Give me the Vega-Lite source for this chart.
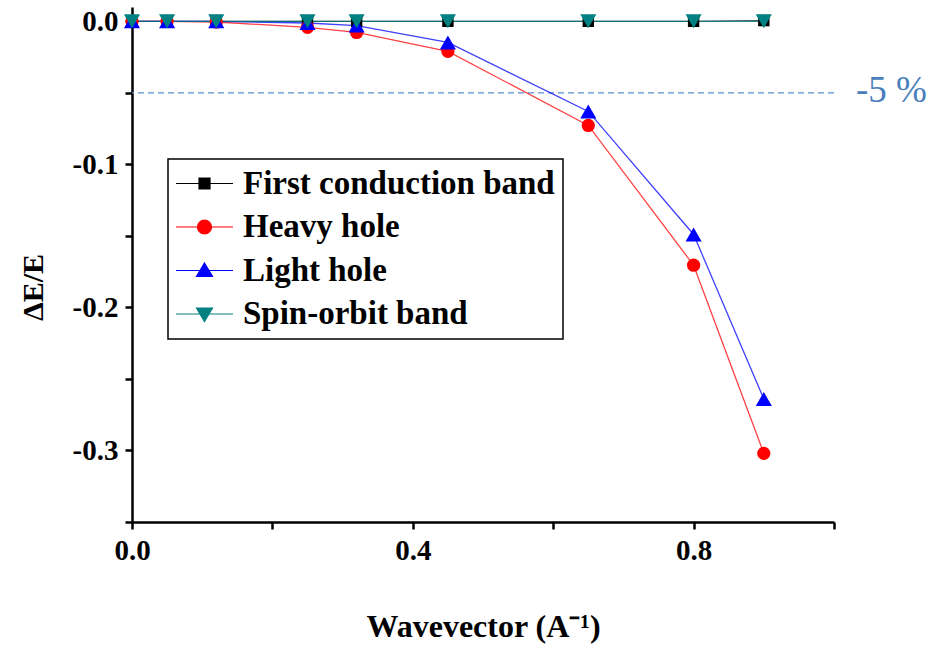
{
  "$schema": "https://vega.github.io/schema/vega-lite/v6.json",
  "autosize": "none",
  "width": 702,
  "height": 515,
  "padding": {"left": 132, "top": 7, "right": 102, "bottom": 128},
  "background": "white",
  "config": {
    "view": {"stroke": null},
    "font": "Liberation Serif",
    "axis": {
      "grid": false,
      "domainColor": "black",
      "domainWidth": 2.5,
      "tickColor": "black",
      "tickWidth": 2.5,
      "tickSize": 7,
      "ticks": true,
      "labelFont": "Liberation Serif",
      "labelFontWeight": "bold",
      "labelFontSize": 29,
      "labelColor": "black",
      "labelOverlap": false,
      "labelBound": false,
      "labelFlush": false,
      "titleFont": "Liberation Serif",
      "titleFontWeight": "bold",
      "titleColor": "black"
    }
  },
  "datasets": {
    "bands": [
      {"k": 0, "dE": 0, "series": "First conduction band"},
      {"k": 0.05, "dE": 0, "series": "First conduction band"},
      {"k": 0.12, "dE": 0, "series": "First conduction band"},
      {"k": 0.25, "dE": 0, "series": "First conduction band"},
      {"k": 0.32, "dE": 0, "series": "First conduction band"},
      {"k": 0.45, "dE": 0, "series": "First conduction band"},
      {"k": 0.65, "dE": 0, "series": "First conduction band"},
      {"k": 0.8, "dE": 0, "series": "First conduction band"},
      {"k": 0.9, "dE": 0.0005, "series": "First conduction band"},
      {"k": 0, "dE": 0, "series": "Heavy hole"},
      {"k": 0.05, "dE": 0, "series": "Heavy hole"},
      {"k": 0.12, "dE": -0.0005, "series": "Heavy hole"},
      {"k": 0.25, "dE": -0.0042, "series": "Heavy hole"},
      {"k": 0.32, "dE": -0.0078, "series": "Heavy hole"},
      {"k": 0.45, "dE": -0.021, "series": "Heavy hole"},
      {"k": 0.65, "dE": -0.0728, "series": "Heavy hole"},
      {"k": 0.8, "dE": -0.1705, "series": "Heavy hole"},
      {"k": 0.9, "dE": -0.302, "series": "Heavy hole"},
      {"k": 0, "dE": 0, "series": "Light hole"},
      {"k": 0.05, "dE": 0, "series": "Light hole"},
      {"k": 0.12, "dE": 0, "series": "Light hole"},
      {"k": 0.25, "dE": -0.0012, "series": "Light hole"},
      {"k": 0.32, "dE": -0.003, "series": "Light hole"},
      {"k": 0.45, "dE": -0.0148, "series": "Light hole"},
      {"k": 0.65, "dE": -0.063, "series": "Light hole"},
      {"k": 0.8, "dE": -0.149, "series": "Light hole"},
      {"k": 0.9, "dE": -0.264, "series": "Light hole"},
      {"k": 0, "dE": 0, "series": "Spin-orbit band"},
      {"k": 0.05, "dE": 0, "series": "Spin-orbit band"},
      {"k": 0.12, "dE": 0, "series": "Spin-orbit band"},
      {"k": 0.25, "dE": 0, "series": "Spin-orbit band"},
      {"k": 0.32, "dE": 0, "series": "Spin-orbit band"},
      {"k": 0.45, "dE": 0, "series": "Spin-orbit band"},
      {"k": 0.65, "dE": 0, "series": "Spin-orbit band"},
      {"k": 0.8, "dE": 0, "series": "Spin-orbit band"},
      {"k": 0.9, "dE": 0, "series": "Spin-orbit band"}
    ]
  },
  "encoding": {
    "x": {
      "field": "k",
      "type": "quantitative",
      "scale": {"domain": [0, 1], "nice": false, "zero": false},
      "axis": {
        "title": "Wavevector (A⁻¹)",
        "titleFontSize": 32,
        "titlePadding": 46,
        "values": [0, 0.2, 0.4, 0.6, 0.8, 1.0],
        "labelPadding": 7,
        "labelExpr": "datum.value == 0 || datum.value == 0.4 || datum.value == 0.8 ? format(datum.value, '.1f') : ''"
      }
    },
    "y": {
      "field": "dE",
      "type": "quantitative",
      "scale": {"domain": [-0.35, 0.01], "nice": false, "zero": false},
      "axis": {
        "title": "ΔE/E",
        "titleFontSize": 30,
        "titlePadding": 24,
        "titleY": 280,
        "values": [-0.35, -0.3, -0.25, -0.2, -0.15, -0.1, -0.05, 0],
        "labelPadding": 7,
        "labelExpr": "abs(datum.value * 10 - round(datum.value * 10)) < 0.001 ? (datum.value < -0.001 ? '-' + format(-datum.value, '.1f') : '0.0') : ''"
      }
    }
  },
  "layer": [
    {
      "data": {"name": "bands"},
      "mark": {"type": "point", "filled": true, "opacity": 0},
      "encoding": {
        "color": {
          "field": "series",
          "type": "nominal",
          "scale": {
            "domain": ["First conduction band", "Heavy hole", "Light hole", "Spin-orbit band"],
            "range": ["#000000", "#ff0000", "#0000ff", "#008080"]
          },
          "legend": {
            "title": null,
            "orient": "none",
            "legendX": 36,
            "legendY": 152,
            "padding": 8,
            "strokeColor": "black",
            "fillColor": "white",
            "symbolSize": 400,
            "symbolOffset": 12,
            "labelOffset": 22,
            "rowPadding": 9.5,
            "labelFont": "Liberation Serif",
            "labelFontWeight": "bold",
            "labelFontSize": 33,
            "labelColor": "black",
            "labelLimit": 600,
            "encode": {
              "legend": {"update": {"strokeWidth": {"value": 1.5}}},
              "symbols": {
                "update": {
                  "fill": {"scale": "color", "field": "value"},
                  "stroke": {"scale": "color", "field": "value"},
                  "shape": {"scale": "shape", "field": "value"},
                  "strokeWidth": {"value": 1.2},
                  "opacity": {"value": 1}
                }
              }
            }
          }
        },
        "shape": {
          "field": "series",
          "type": "nominal",
          "scale": {
            "domain": ["First conduction band", "Heavy hole", "Light hole", "Spin-orbit band"],
            "range": [
              "M-2.85,0H2.85M-0.55,-0.55H0.55V0.55H-0.55Z",
              "M-2.85,0H2.85M0.7,0A0.7,0.7,0,1,1,-0.7,0A0.7,0.7,0,1,1,0.7,0Z",
              "M-2.85,0H2.85M0,-0.75L0.8,0.6L-0.8,0.6Z",
              "M-2.85,0H2.85M0,0.75L0.8,-0.6L-0.8,-0.6Z"
            ]
          },
          "legend": {
            "title": null,
            "orient": "none",
            "legendX": 36,
            "legendY": 152
          }
        }
      }
    },
    {
      "data": {"values": [{"level": -0.05}]},
      "mark": {"type": "rule", "color": "#5b8fd6", "strokeDash": [6, 4], "strokeWidth": 1.2},
      "encoding": {"x": null, "y": {"field": "level", "type": "quantitative"}}
    },
    {
      "data": {"name": "bands"},
      "mark": {"type": "line", "strokeWidth": 1.3, "opacity": 0.75},
      "encoding": {"color": {"field": "series", "type": "nominal"}}
    },
    {
      "data": {"name": "bands"},
      "transform": [{"filter": "datum.series == 'First conduction band'"}],
      "mark": {"type": "point", "shape": "square", "filled": true, "size": 130, "opacity": 1},
      "encoding": {"color": {"field": "series", "type": "nominal"}}
    },
    {
      "data": {"name": "bands"},
      "transform": [{"filter": "datum.series == 'Heavy hole'"}],
      "mark": {"type": "point", "shape": "circle", "filled": true, "size": 175, "opacity": 1},
      "encoding": {"color": {"field": "series", "type": "nominal"}}
    },
    {
      "data": {"name": "bands"},
      "transform": [{"filter": "datum.series == 'Light hole'"}],
      "mark": {"type": "point", "shape": "triangle-up", "filled": true, "size": 260, "opacity": 1},
      "encoding": {"color": {"field": "series", "type": "nominal"}}
    },
    {
      "data": {"name": "bands"},
      "transform": [{"filter": "datum.series == 'Spin-orbit band'"}],
      "mark": {"type": "point", "shape": "triangle-down", "filled": true, "size": 260, "opacity": 1},
      "encoding": {"color": {"field": "series", "type": "nominal"}}
    },
    {
      "data": {"values": [{"k": 1.0, "dE": -0.05, "label": "-5 %"}]},
      "mark": {"type": "text", "align": "left", "baseline": "middle", "dx": 22, "dy": -2, "font": "Liberation Serif", "fontSize": 37, "color": "#4a7ebb"},
      "encoding": {"text": {"field": "label"}}
    }
  ]
}
